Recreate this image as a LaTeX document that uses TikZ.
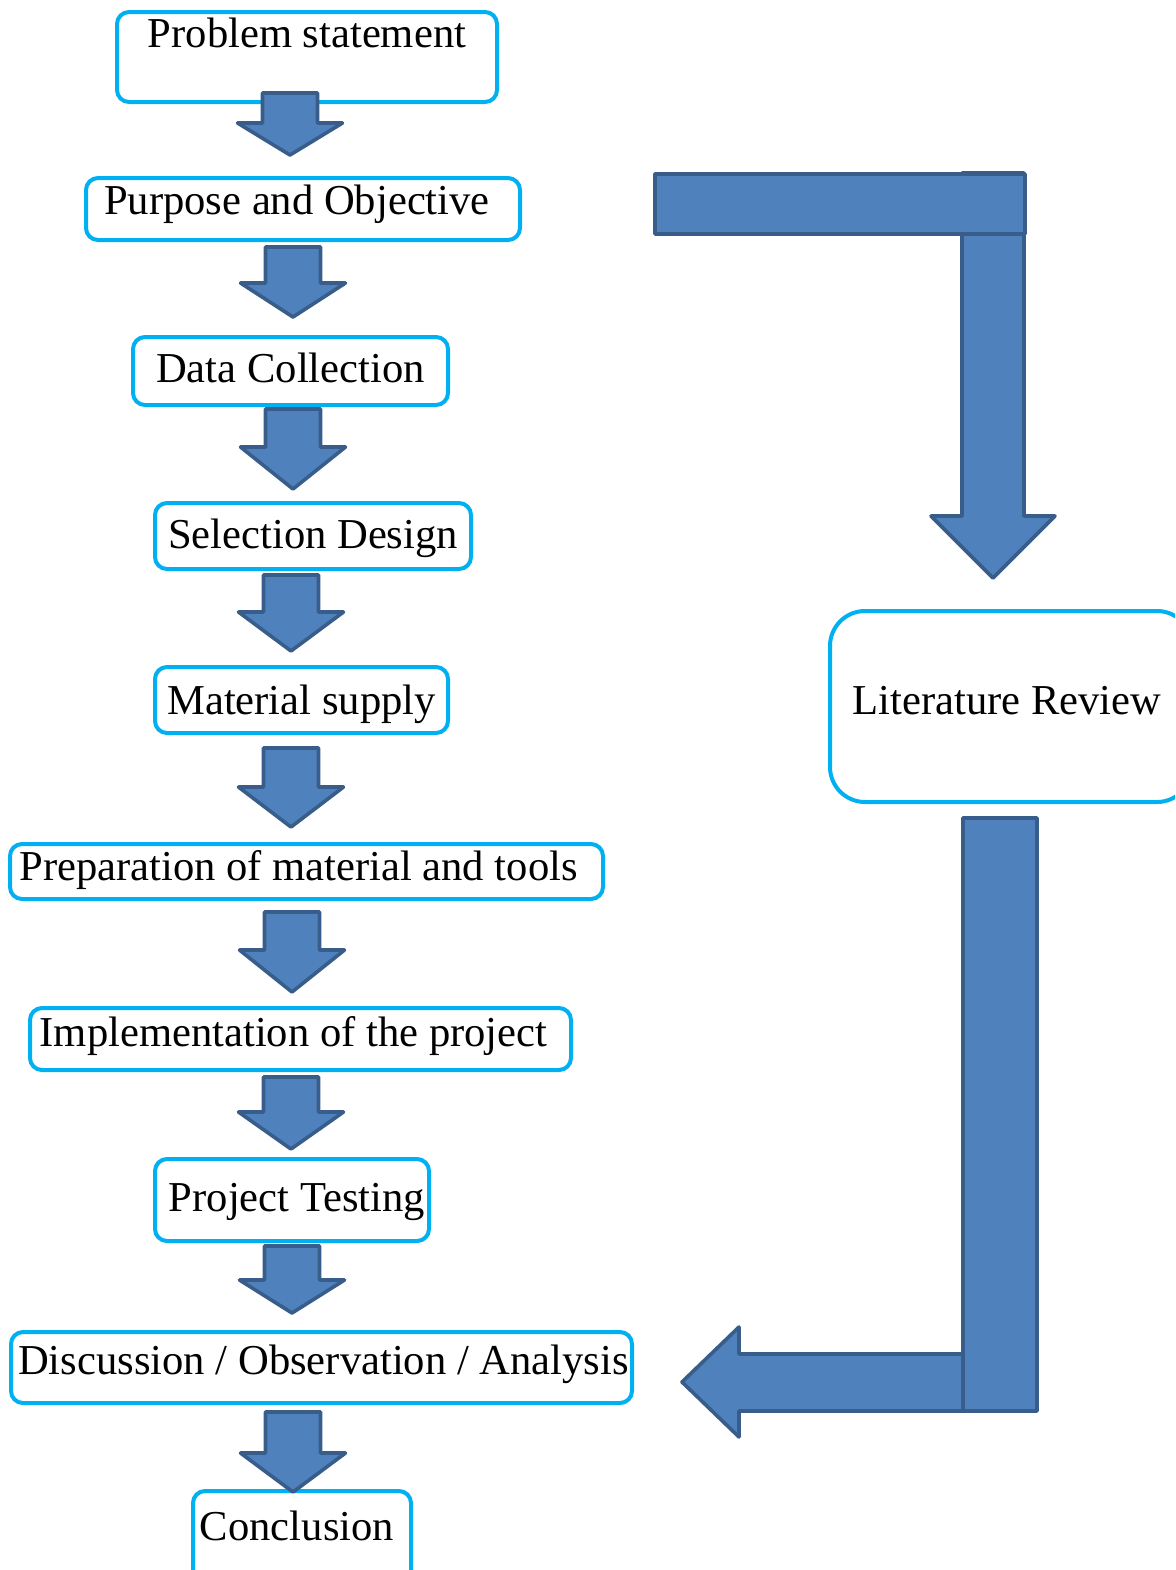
\documentclass[tikz,border=0pt]{standalone}
\usepackage{fontspec}
\setmainfont{Liberation Serif}
\usepackage{tikz}
\usetikzlibrary{positioning,calc}

\definecolor{boxCyan}{HTML}{00B0F0}
\definecolor{arrowFill}{HTML}{4F81BD}
\definecolor{arrowLine}{HTML}{385D8A}

\tikzset{
    stepBox/.style = {draw = boxCyan, line width = 2pt, rounded corners = 6pt, fill = white,
        anchor = north west, inner sep = 0pt, font = \fontsize{21.3}{25}\selectfont},
    textShift/.style = {execute at begin node = {\kern#1}},
    blockArrow/.style = {draw = arrowLine, fill = arrowFill, line width = 1.8pt, line join = round}
}

\begin{document}
\begin{tikzpicture}[x = 0.5pt, y = -0.5pt]

        \def\stemW{27.5}
        \def\headW{52.5}

        \clip (0, 0) rectangle (1175, 1570);

        % draw the boxes of the main chain
        \node[stepBox, minimum width = 190pt,   text height = 17.5pt, text depth = 27.5pt] (probStat) at (115,   10) {Problem statement};
        \node[stepBox, minimum width = 217pt,   text height = 18pt,   text depth = 13pt, textShift = -6pt]   (purpObj)  at ( 84,  176) {Purpose and Objective};
        \node[stepBox, minimum width = 157.5pt, text height = 22.5pt, text depth = 11.5pt] (dataColl) at (131,  335) {Data Collection};
        \node[stepBox, minimum width = 158pt,   text height = 22.5pt, text depth = 10.5pt] (selDes)   at (153,  501) {Selection Design};
        \node[stepBox, minimum width = 146.5pt, text height = 23.5pt, text depth = 9.5pt]  (matSup)   at (153,  665) {Material supply};
        \node[stepBox, minimum width = 296.5pt, text height = 18pt,   text depth = 9.5pt, textShift = -8pt]  (prepMat)  at (  8,  842) {Preparation of material and tools};
        \node[stepBox, minimum width = 270.5pt, text height = 19pt,   text depth = 12pt, textShift = -7pt]   (implProj) at ( 28, 1006) {Implementation of the project};
        \node[stepBox, minimum width = 137pt,   text height = 26pt,   text depth = 15pt, textShift = 5pt]    (projTest) at (153, 1157) {Project Testing};
        \node[stepBox, minimum width = 310.5pt, text height = 21pt,   text depth = 14.5pt, textShift = 2pt]  (discObs)  at (  9, 1330) {Discussion / Observation / Analysis};
        \node[stepBox, minimum width = 109pt,   text height = 24.5pt, text depth = 21pt, textShift = -5pt]   (concl)    at (191, 1489) {Conclusion};

        % draw the literature review box
        \node[stepBox, rounded corners = 17.5pt, minimum width = 181pt, text height = 51.5pt, text depth = 44pt, textShift = -4pt] (litRev) at (828, 609) {Literature Review};

        % draw the down arrows between the steps
        \foreach \x/\yT/\yN/\yB in {290/93/123/155, 293/247/283/317, 293/409/447/489, 291/575/612/651, 291/748/787/827,
                                    292/912/950/992, 291/1077/1112/1149, 292/1246/1280/1313, 293/1412/1453/1492} {
            \draw[blockArrow] ({\x-\stemW}, \yT) -- ({\x+\stemW}, \yT) -- ({\x+\stemW}, \yN) -- ({\x+\headW}, \yN)
                -- (\x, \yB) -- ({\x-\headW}, \yN) -- ({\x-\stemW}, \yN) -- cycle;
        }

        % draw the bent arrow down to the literature review
        \coordinate (topBend) at (993, 173);
        \coordinate (topTip)  at (993, 578);
        \draw[blockArrow] ($(topBend) + (-31, 0)$) -- ($(topBend) + (31, 0)$) -- ($(topTip) + (31, -62)$) -- ($(topTip) + (62, -62)$)
            -- (topTip) -- ($(topTip) + (-62, -62)$) -- ($(topTip) + (-31, -62)$) -- cycle;
        \draw[blockArrow] (655, 174) rectangle (1025, 234);

        % draw the bent arrow back to the discussion
        \coordinate (lowTip) at (682, 1382);
        \draw[blockArrow] (lowTip) -- ($(lowTip) + (57, -55)$) -- ($(lowTip) + (57, -28)$) -- ($(lowTip) + (281, -28)$)
            -- ($(lowTip) + (281, 29)$) -- ($(lowTip) + (57, 29)$) -- ($(lowTip) + (57, 55)$) -- cycle;
        \draw[blockArrow] (963, 818) rectangle (1037, 1411);

    \end{tikzpicture}
\end{document}
